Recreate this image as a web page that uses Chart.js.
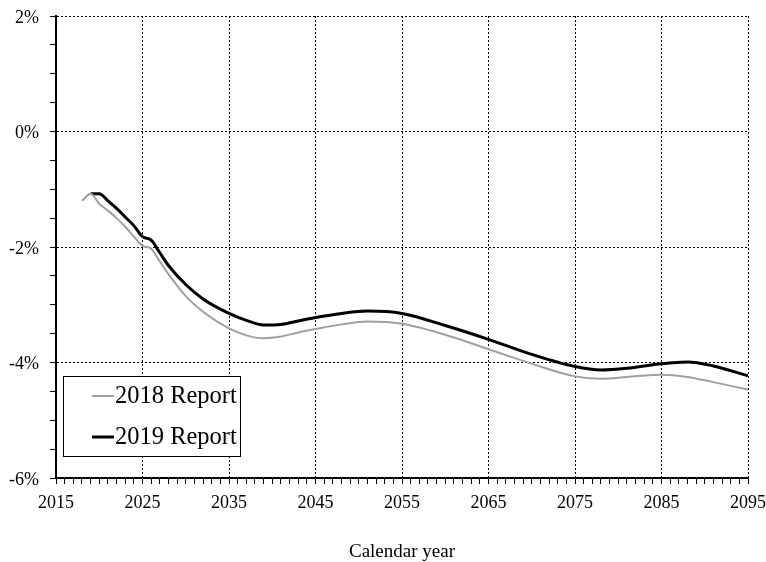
<!DOCTYPE html>
<html><head><meta charset="utf-8">
<script src="https://cdn.jsdelivr.net/npm/chart.js@4"></script>
<style>html,body{margin:0;padding:0;background:#fff}#wrap{width:766px;height:562px}</style>
</head><body><div id="wrap"><canvas id="c" width="766" height="562"></canvas></div>
<script>
const seriesNames = ['2018 Report', '2019 Report'];
const years2018 = [2018,2019,2020,2021,2022,2023,2024,2025,2026,2027,2028,2030,2032,2035,2037,2039,2041,2043,2045,2048,2051,2055,2060,2065,2070,2075,2078,2081,2085,2088,2091,2095];
const values2018 = [-1.20,-1.08,-1.25,-1.37,-1.50,-1.65,-1.82,-1.98,-2.03,-2.25,-2.47,-2.85,-3.12,-3.41,-3.53,-3.58,-3.55,-3.48,-3.42,-3.34,-3.29,-3.33,-3.52,-3.77,-4.02,-4.24,-4.28,-4.25,-4.21,-4.25,-4.34,-4.47];
const years2019 = [2019,2020,2021,2022,2023,2024,2025,2026,2027,2028,2030,2032,2035,2037,2039,2041,2043,2045,2048,2051,2055,2060,2065,2070,2075,2078,2081,2085,2088,2091,2095];
const values2019 = [-1.08,-1.08,-1.20,-1.33,-1.48,-1.63,-1.82,-1.88,-2.10,-2.32,-2.65,-2.90,-3.15,-3.27,-3.35,-3.34,-3.28,-3.22,-3.15,-3.11,-3.15,-3.36,-3.60,-3.86,-4.07,-4.13,-4.10,-4.02,-3.99,-4.06,-4.23];
const xTickLabels = [2015,2025,2035,2045,2055,2065,2075,2085,2095];
const yTickLabels = [2,0,-2,-4,-6];
const xTitle = 'Calendar year';

const FONT = "'Liberation Serif','Times New Roman',serif";
const toPts = (xs, ys) => xs.map((x,i)=>({x:x,y:ys[i]}));

const legendPlugin = {
  id:'boxLegend',
  afterDatasetsDraw(chart){
    const ctx = chart.ctx;
    const ca = chart.chartArea;
    const x0 = ca.left + 7, y0 = ca.bottom - 102, w = 177, h = 80;
    ctx.save();
    ctx.fillStyle = '#fff';
    ctx.fillRect(x0, y0, w, h);
    ctx.strokeStyle = '#000'; ctx.lineWidth = 1;
    ctx.strokeRect(x0+0.5, y0+0.5, w, h);
    ctx.font = '24.5px ' + FONT;
    ctx.textBaseline = 'middle';
    chart.data.datasets.forEach((ds,i)=>{
      const cy = y0 + 20 + i*41;
      ctx.strokeStyle = ds.borderColor; ctx.lineWidth = ds.borderWidth;
      ctx.beginPath(); ctx.moveTo(x0+29, cy); ctx.lineTo(x0+51, cy); ctx.stroke();
      ctx.fillStyle = '#000';
      ctx.fillText(ds.label, x0+52, cy+1);
    });
    ctx.restore();
  }
};

new Chart(document.getElementById('c'), {
  type:'line',
  data:{datasets:[
    {label:seriesNames[0], data:toPts(years2018, values2018), borderColor:'#a0a0a0', borderWidth:2, pointRadius:0, tension:0.4, cubicInterpolationMode:'monotone', fill:false},
    {label:seriesNames[1], data:toPts(years2019, values2019), borderColor:'#000000', borderWidth:3, pointRadius:0, tension:0.4, cubicInterpolationMode:'monotone', fill:false}
  ]},
  options:{
    responsive:false, animation:false, devicePixelRatio:1,
    layout:{padding:{left:0,right:18,top:16,bottom:0}},
    plugins:{legend:{display:false}, tooltip:{enabled:false}},
    scales:{
      x:{type:'linear', min:2015, max:2095,
        afterFit(s){ s.height = 84; s.paddingLeft = 0; s.paddingRight = 0; },
        ticks:{stepSize:1, autoSkip:false, maxRotation:0, padding:8, color:'#000', font:{family:FONT,size:18},
          callback:(v)=> xTickLabels.includes(v) ? String(v) : ''},
        grid:{color:(c)=> (c.tick && xTickLabels.includes(c.tick.value) && c.tick.value!==2015) ? '#000' : 'transparent',
          tickColor:'#000', tickLength:6, lineWidth:1},
        border:{display:true, color:'#000', width:2, dash:[2,2]},
        title:{display:true, text:xTitle, color:'#000', font:{family:FONT,size:19}, padding:{top:0,bottom:-1}}
      },
      y:{type:'linear', min:-6, max:2,
        afterFit(s){ s.width = 56; s.paddingTop = 0; s.paddingBottom = 0; },
        ticks:{stepSize:0.5, autoSkip:false, padding:11, labelOffset:2, color:'#000', font:{family:FONT,size:18},
          callback:(v)=> yTickLabels.includes(v) ? v+'%' : ''},
        grid:{color:(c)=> (c.tick && yTickLabels.includes(c.tick.value) && c.tick.value!==-6) ? '#000' : 'transparent',
          tickColor:'#000', tickLength:6, lineWidth:1},
        border:{display:true, color:'#000', width:2, dash:[2,2]}
      }
    }
  },
  plugins:[legendPlugin]
});
</script></body></html>
